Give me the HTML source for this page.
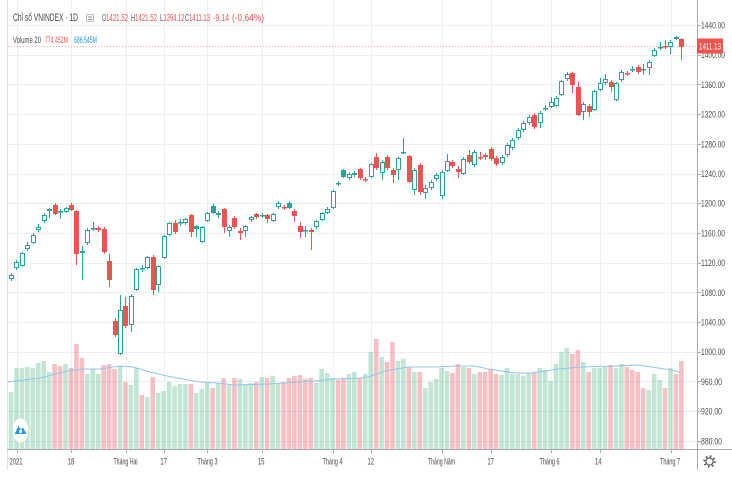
<!DOCTYPE html>
<html><head><meta charset="utf-8">
<style>
html,body{margin:0;padding:0;background:#fff;width:732px;height:484px;overflow:hidden}
svg{display:block}
text{font-family:"Liberation Sans",sans-serif}
</style></head>
<body>
<svg id="s" width="732" height="484" viewBox="0 0 732 484" xmlns="http://www.w3.org/2000/svg">
<defs><clipPath id="cp"><rect x="8" y="0" width="689" height="449"/></clipPath></defs>
<rect x="0" y="0" width="732" height="484" fill="#fff"/>
<g id="grid" stroke="#eceef2" stroke-width="1"></g>
<g id="vol" clip-path="url(#cp)"></g>
<polyline fill="none" stroke="#92c6ea" stroke-width="1.1" points="8,382 40,378 67,371 83,369 100,369 120,366 133,367 150,372 167,376 183,379 200,382 217,383 235,385 268,384 302,382 335,379 362,378 368,377 385,371 408,367 435,367 455,366 475,366 488,369 515,373 532,373 558,369 582,367 615,366 638,365 665,369 680,372"/>
<line x1="8" y1="46.5" x2="697" y2="46.5" stroke="#ef5350" stroke-opacity="0.55" stroke-dasharray="1 2"/>
<g id="cdl" clip-path="url(#cp)"></g>

<!-- axes -->
<line x1="7.5" y1="0" x2="7.5" y2="470" stroke="#e0e3eb"/>
<line x1="697.5" y1="0" x2="697.5" y2="470" stroke="#a9acb5"/>
<line x1="7" y1="449.5" x2="732" y2="449.5" stroke="#a9acb5"/>
<g id="ticks" stroke="#a9acb5"></g>

<!-- price labels -->
<g font-size="9.5" fill="#4a4a4a" lengthAdjust="spacingAndGlyphs">
<text x="701" y="28.5" textLength="24" lengthAdjust="spacingAndGlyphs">1440.00</text>
<text x="701" y="58.2" textLength="24" lengthAdjust="spacingAndGlyphs">1400.00</text>
<text x="701" y="87.9" textLength="24" lengthAdjust="spacingAndGlyphs">1360.00</text>
<text x="701" y="117.6" textLength="24" lengthAdjust="spacingAndGlyphs">1320.00</text>
<text x="701" y="147.3" textLength="24" lengthAdjust="spacingAndGlyphs">1280.00</text>
<text x="701" y="177" textLength="24" lengthAdjust="spacingAndGlyphs">1240.00</text>
<text x="701" y="206.7" textLength="24" lengthAdjust="spacingAndGlyphs">1200.00</text>
<text x="701" y="236.4" textLength="24" lengthAdjust="spacingAndGlyphs">1160.00</text>
<text x="701" y="266.1" textLength="24" lengthAdjust="spacingAndGlyphs">1120.00</text>
<text x="701" y="295.8" textLength="24" lengthAdjust="spacingAndGlyphs">1080.00</text>
<text x="701" y="325.5" textLength="24" lengthAdjust="spacingAndGlyphs">1040.00</text>
<text x="701" y="355.2" textLength="24" lengthAdjust="spacingAndGlyphs">1000.00</text>
<text x="701" y="384.9" textLength="21" lengthAdjust="spacingAndGlyphs">960.00</text>
<text x="701" y="414.6" textLength="21" lengthAdjust="spacingAndGlyphs">920.00</text>
<text x="701" y="444.3" textLength="21" lengthAdjust="spacingAndGlyphs">880.00</text>
</g>
<rect x="697" y="38.5" width="26" height="15" fill="#ef5350"/>
<text x="699" y="49.5" font-size="9.5" fill="#fff" textLength="22" lengthAdjust="spacingAndGlyphs">1411.13</text>

<!-- time labels -->
<g font-size="9.5" fill="#4a4a4a">
<text x="9.5" y="464.5" textLength="13" lengthAdjust="spacingAndGlyphs">2021</text>
<text x="67.8" y="464.5" textLength="6.5" lengthAdjust="spacingAndGlyphs">18</text>
<text x="113.5" y="464.5" textLength="24" lengthAdjust="spacingAndGlyphs">Tháng Hai</text>
<text x="160.4" y="464.5" textLength="6.5" lengthAdjust="spacingAndGlyphs">17</text>
<text x="197.5" y="464.5" textLength="20" lengthAdjust="spacingAndGlyphs">Tháng 3</text>
<text x="258" y="464.5" textLength="6.5" lengthAdjust="spacingAndGlyphs">15</text>
<text x="322.5" y="464.5" textLength="20" lengthAdjust="spacingAndGlyphs">Tháng 4</text>
<text x="367.5" y="464.5" textLength="6.5" lengthAdjust="spacingAndGlyphs">12</text>
<text x="428" y="464.5" textLength="27" lengthAdjust="spacingAndGlyphs">Tháng Năm</text>
<text x="487.4" y="464.5" textLength="6.5" lengthAdjust="spacingAndGlyphs">17</text>
<text x="539.5" y="464.5" textLength="20" lengthAdjust="spacingAndGlyphs">Tháng 6</text>
<text x="595" y="464.5" textLength="6.5" lengthAdjust="spacingAndGlyphs">14</text>
<text x="660" y="464.5" textLength="20" lengthAdjust="spacingAndGlyphs">Tháng 7</text>
</g>

<!-- gear -->
<circle cx="709.5" cy="461.5" r="5.2" fill="none" stroke="#555" stroke-width="2" stroke-dasharray="1.6 2.5"/>
<circle cx="709.5" cy="461.5" r="3.6" fill="#fff" stroke="#555" stroke-width="1.1"/>

<!-- logo -->
<ellipse cx="20.5" cy="430.5" rx="8" ry="12" fill="#fff"/>
<path d="M14.5 434 L18.5 426 L21 430 L23 427.5 L26.5 434 Z" fill="#2196f3"/>
<circle cx="20.5" cy="431.5" r="1.6" fill="#fff"/>

<!-- header -->
<text x="13" y="21" font-size="11" fill="#4a4a4a" textLength="65" lengthAdjust="spacingAndGlyphs">Chỉ số VNINDEX · 1D</text>
<rect x="86.5" y="14.5" width="7" height="7" rx="1" fill="#fff" stroke="#bbb"/>
<line x1="88" y1="17" x2="92" y2="17" stroke="#888"/>
<line x1="88" y1="19.5" x2="92" y2="19.5" stroke="#888"/>
<g font-size="10">
<text x="102" y="21" fill="#555" textLength="4" lengthAdjust="spacingAndGlyphs">O</text>
<text x="106" y="21" fill="#ef5350" textLength="22" lengthAdjust="spacingAndGlyphs">1421.52</text>
<text x="131" y="21" fill="#555" textLength="4" lengthAdjust="spacingAndGlyphs">H</text>
<text x="135" y="21" fill="#ef5350" textLength="22" lengthAdjust="spacingAndGlyphs">1421.52</text>
<text x="160" y="21" fill="#555" textLength="3.5" lengthAdjust="spacingAndGlyphs">L</text>
<text x="163.5" y="21" fill="#ef5350" textLength="21" lengthAdjust="spacingAndGlyphs">1394.12</text>
<text x="185" y="21" fill="#555" textLength="4" lengthAdjust="spacingAndGlyphs">C</text>
<text x="189" y="21" fill="#ef5350" textLength="21" lengthAdjust="spacingAndGlyphs">1411.13</text>
<text x="213" y="21" fill="#ef5350" textLength="16" lengthAdjust="spacingAndGlyphs">-9.14</text>
<text x="232" y="21" fill="#ef5350" textLength="32" lengthAdjust="spacingAndGlyphs">(-0.64%)</text>
</g>
<g font-size="9.5">
<text x="13" y="43" fill="#4a4a4a" textLength="28" lengthAdjust="spacingAndGlyphs">Volume 20</text>
<text x="45" y="43" fill="#ef5350" textLength="23" lengthAdjust="spacingAndGlyphs">774.452M</text>
<text x="74" y="43" fill="#2196f3" textLength="23" lengthAdjust="spacingAndGlyphs">686.545M</text>
</g>
</svg>
<script>
(function(){
var NS="http://www.w3.org/2000/svg";
function X(i){return 11+5.45*i;}
// grid
var g='';
for(var k=0;k<15;k++){var y=Math.round(25+29.7*k)+0.5;g+='<line x1="8" y1="'+y+'" x2="697" y2="'+y+'"/>';}
var vx=[16.5,71,125.5,163.6,207,261.7,332.6,370.7,441.5,490.6,550.5,599.6,670.5];
var tk='';
vx.forEach(function(x){var xx=Math.round(x)+0.5;g+='<line x1="'+xx+'" y1="0" x2="'+xx+'" y2="449"/>';tk+='<line x1="'+xx+'" y1="450" x2="'+xx+'" y2="453"/>';});
for(var k=0;k<15;k++){var y=Math.round(25+29.7*k)+0.5;tk+='<line x1="698" y1="'+y+'" x2="701" y2="'+y+'"/>';}
document.getElementById('grid').innerHTML=g;
document.getElementById('ticks').innerHTML=tk;
// volume
var T=[392,368,368,367,368,363,361,372,364,366,364,368,344,358,374,369,374,365,364,369,366,382,385,368,395,397,377,393,391,382,386,384,384,384,393,389,382,388,383,378,385,378,379,385,383,382,377,378,376,384,382,378,376,375,379,378,383,369,373,378,380,378,374,372,378,374,352,339,357,362,342,361,359,367,372,372,388,382,379,368,371,373,364,367,368,374,372,372,369,374,375,368,374,374,376,373,372,368,370,381,364,352,348,354,350,362,372,368,368,367,365,368,364,367,370,372,388,390,374,380,388,368,374,361];
var CS="ggggggggrrgrrrgggrrrgrggrgrggggggrgggrgrgrgggrgrggrrrrrrggggrrggrggrgrrggrgrgggggrrgrgrrrrggggggrggggggrrgrgggrggrrrrgggrgrr";
var v='';
T.forEach(function(t,i){var x=X(i)-2.3;v+='<rect x="'+x.toFixed(2)+'" y="'+t+'" width="4.6" height="'+(449-t)+'" fill="'+(CS[i]=='g'?'rgba(83,185,135,0.36)':'rgba(235,77,92,0.36)')+'"/>';});
document.getElementById('vol').innerHTML=v;
// candles
var C=[
[275,279,273,281,'h'],[262,268,260,270,'h'],[253,266,252,267,'h'],[245,249,242,251,'h'],[235,243,233,244,'h'],
[227,230,224,232,'h'],[215,221,213,223,'h'],[209,211,208,218,'t'],[205,214,203,215,'r'],[211,212,209,219,'t'],
[208,212,207,213,'h'],[205,210,203,211,'r'],[211,254,210,265,'r'],[251,253,246,280,'t'],[230,243,228,245,'h'],
[228,229,222,231,'t'],[228,230,226,232,'r'],[229,252,227,254,'r'],[261,280,254,287,'r'],[321,335,318,337,'r'],
[310,354,295,355,'h'],[306,326,297,328,'r'],[296,325,294,332,'h'],[269,290,268,291,'h'],[268,269,265,272,'t'],
[257,268,256,269,'h'],[257,290,255,295,'r'],[266,285,265,292,'h'],[236,258,235,259,'h'],[223,235,222,236,'h'],
[223,232,220,234,'r'],[222,223,219,226,'t'],[219,223,218,225,'h'],[215,232,214,237,'r'],[226,229,225,237,'t'],
[227,242,226,243,'h'],[213,221,212,222,'h'],[206,213,204,214,'t'],[213,215,211,218,'h'],[209,227,208,233,'r'],
[227,231,225,237,'h'],[218,227,216,229,'r'],[231,233,228,240,'r'],[226,231,225,237,'h'],[217,220,216,222,'h'],
[214,217,213,219,'r'],[215,216,213,218,'t'],[215,219,214,223,'r'],[214,221,213,222,'h'],[203,207,201,209,'h'],
[207,208,205,210,'r'],[203,208,201,209,'t'],[211,216,209,222,'r'],[226,232,222,238,'r'],[230,231,226,237,'t'],
[230,232,228,250,'r'],[221,227,220,229,'h'],[213,220,212,221,'h'],[209,213,207,214,'h'],[191,208,190,209,'h'],
[183,184,181,186,'t'],[170,177,169,178,'t'],[174,178,172,180,'h'],[173,175,171,177,'h'],[169,178,168,180,'r'],
[179,180,177,182,'r'],[164,177,163,178,'h'],[157,168,153,170,'r'],[162,173,160,180,'h'],[157,168,155,170,'r'],
[170,175,168,183,'r'],[158,170,157,180,'h'],[152,153,138,154,'t'],[156,182,155,183,'r'],[170,190,168,195,'h'],
[165,192,163,195,'r'],[188,193,185,199,'h'],[182,188,180,190,'h'],[175,179,173,181,'h'],[172,196,170,199,'h'],
[161,171,154,172,'h'],[162,166,160,168,'r'],[169,172,166,178,'r'],[159,174,157,175,'h'],[155,162,150,164,'r'],
[152,165,150,167,'h'],[157,158,152,160,'r'],[155,157,153,160,'r'],[149,159,147,161,'r'],[158,164,156,166,'r'],
[157,163,155,165,'h'],[145,155,143,157,'h'],[140,148,138,150,'h'],[130,138,128,140,'h'],[123,130,121,132,'h'],
[117,123,115,125,'h'],[115,127,113,129,'r'],[113,123,111,128,'h'],[108,109,105,111,'t'],[102,107,97,108,'h'],
[98,106,96,107,'h'],[81,95,80,96,'h'],[74,79,72,81,'h'],[73,85,72,93,'r'],[87,115,82,116,'r'],
[104,112,102,120,'h'],[106,112,104,117,'r'],[91,110,90,111,'h'],[83,90,78,91,'h'],[79,83,74,85,'h'],
[82,87,80,92,'r'],[83,100,82,101,'h'],[72,80,70,82,'h'],[73,74,71,76,'r'],[69,70,66,72,'t'],
[67,72,65,74,'r'],[69,70,64,75,'t'],[62,68,60,75,'h'],[50,56,48,57,'h'],[47,48,42,50,'t'],
[46,47,40,49,'r'],[42,47,40,54,'h'],[37,39,36,40,'t'],[39,47,38,60,'r']];
var c='';
C.forEach(function(d,i){
  var x=Math.round(X(i))+0.5,t=d[0],b=d[1],wt=d[2],wb=d[3],k=d[4];
  var col=(k=='r')?'#ef5350':'#26a69a';
  c+='<line x1="'+x+'" y1="'+wt+'" x2="'+x+'" y2="'+wb+'" stroke="'+col+'"/>';
  if(k=='h'){c+='<rect x="'+(x-2)+'" y="'+(t+0.5)+'" width="4" height="'+Math.max(b-t-1,1)+'" fill="#fff" stroke="'+col+'"/>';}
  else{c+='<rect x="'+(x-2.5)+'" y="'+t+'" width="5" height="'+Math.max(b-t,1.5)+'" fill="'+col+'"/>';}
});
document.getElementById('cdl').innerHTML=c;
})();
</script>
</body></html>
